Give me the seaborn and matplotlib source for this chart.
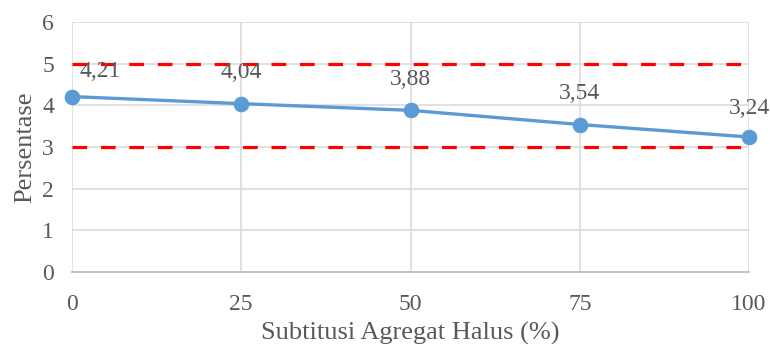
import matplotlib
matplotlib.use("Agg")
import matplotlib.pyplot as plt
import seaborn as sns
import pandas as pd

# Data
substitusi = [0, 25, 50, 75, 100]
persentase = [4.21, 4.04, 3.88, 3.54, 3.24]
label_teks = ["4,21", "4,04", "3,88", "3,54", "3,24"]
batas = [3, 5]
y_ticks = [0, 1, 2, 3, 4, 5, 6]
x_ticks = [0, 25, 50, 75, 100]

sns.set_theme(style="white")
plt.rcParams["font.family"] = ["Liberation Serif", "DejaVu Serif"]

teks_warna = "#595959"
biru = "#5B9BD5"

df = pd.DataFrame({"x": substitusi, "y": persentase})

fig = plt.figure(figsize=(7.7, 3.46), dpi=100)
ax = fig.add_axes([72 / 770, 1 - 272 / 346, 677 / 770, 250 / 346])

ax.set_xlim(0, 100)
ax.set_ylim(0, 6)
ax.set_xticks(x_ticks)
ax.set_yticks(y_ticks)
ax.grid(True, color="#D9D9D9", linewidth=1.1)
ax.set_axisbelow(True)

for s in ["top", "right", "left"]:
    ax.spines[s].set_visible(False)
ax.spines["bottom"].set_color("#BFBFBF")
ax.spines["bottom"].set_linewidth(1.3)

# Batas atas dan bawah
for b in batas:
    ax.axhline(b, color="#FF0000", linewidth=2.3, linestyle=(0, (4.6, 4.3)),
               zorder=2, clip_on=False)

sns.lineplot(data=df, x="x", y="y", ax=ax, color=biru, linewidth=2.4,
             marker="o", markersize=10.5, markeredgecolor=biru,
             markerfacecolor=biru, zorder=3, clip_on=False)

offsets = [(28, 25), (0, 31), (0, 31), (0, 31), (0, 29)]
for xv, yv, t, off in zip(substitusi, persentase, label_teks, offsets):
    ax.annotate(t, (xv, yv), xytext=(off[0] * 0.72, off[1] * 0.72),
                textcoords="offset points", ha="center", va="center",
                fontsize=17, color=teks_warna, annotation_clip=False)

ax.tick_params(axis="x", length=0, labelsize=17, labelcolor=teks_warna, pad=15.5)
ax.tick_params(axis="y", length=0, labelsize=17, labelcolor=teks_warna, pad=13)
ax.set_xlabel("Subtitusi Agregat Halus (%)", fontsize=19, color=teks_warna,
              labelpad=5)
ax.set_ylabel("Persentase", fontsize=19, color=teks_warna, labelpad=4)

fig.savefig("out.png", dpi=100)
